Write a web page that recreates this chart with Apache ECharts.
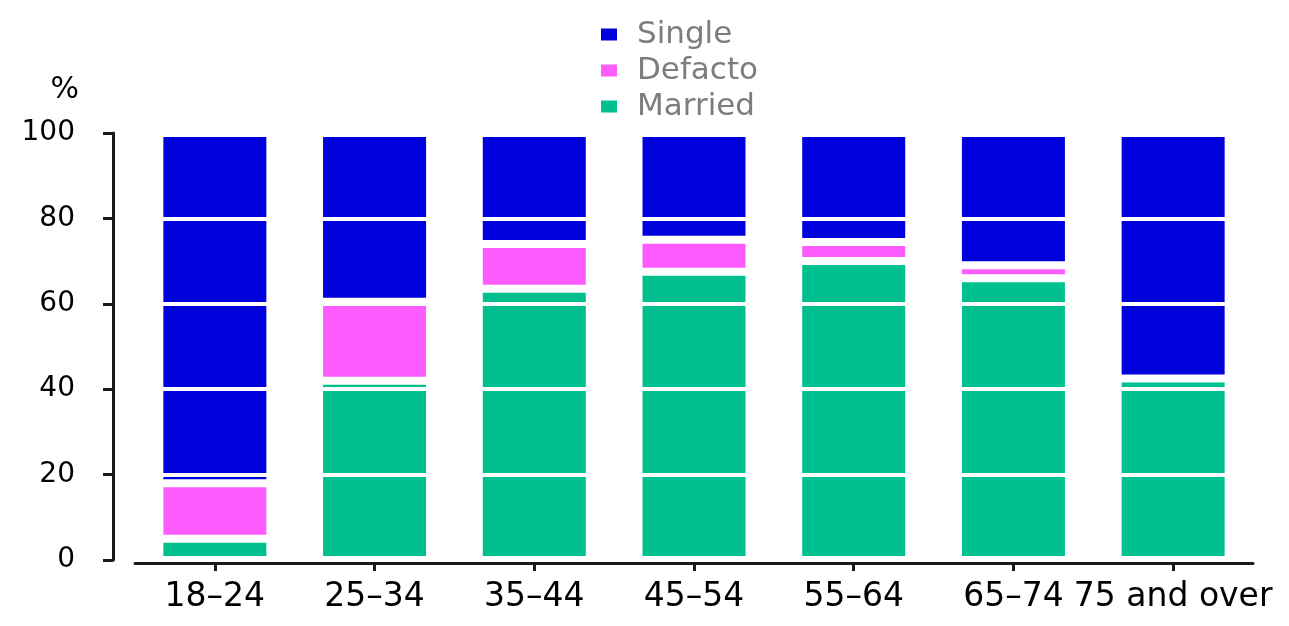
<!DOCTYPE html>
<html>
<head>
<meta charset="utf-8">
<script src="https://cdn.jsdelivr.net/npm/echarts@6/dist/echarts.min.js"></script>
<style>
  html, body { margin: 0; padding: 0; background: #ffffff; }
  #chart { width: 1289px; height: 626px; }
</style>
</head>
<body>
<div id="chart"></div>
<script>
const categories = ['18\u201324', '25\u201334', '35\u201344', '45\u201354', '55\u201364', '65\u201374', '75 and over'];
const married = [5, 42, 63.5, 67.5, 70, 66, 42.5];
const defacto = [13, 18.5, 10.5, 7.5, 4.5, 3, 0];
const single = [82, 39.5, 26, 25, 25.5, 31, 57.5];
const yTicks = [0, 20, 40, 60, 80, 100];

const FONT = 'DejaVu Sans, Verdana, sans-serif';
const chart = echarts.init(document.getElementById('chart'), null, { renderer: 'canvas' });

function barSeries(name, data, color) {
  return {
    name: name,
    type: 'bar',
    stack: 'total',
    data: data,
    barWidth: 111,
    itemStyle: { color: color, borderColor: '#ffffff', borderWidth: 4 },
    emphasis: { disabled: true }
  };
}

chart.setOption({
  animation: false,
  backgroundColor: '#ffffff',
  legend: {
    data: ['Single', 'Defacto', 'Married'],
    orient: 'vertical',
    left: 594,
    top: 14,
    icon: 'rect',
    itemWidth: 18,
    itemHeight: 14,
    itemGap: 5,
    textStyle: { fontFamily: FONT, fontSize: 31, color: '#7d7d7d', lineHeight: 31, padding: [0, 0, 0, 14] }
  },
  grid: { left: 135, right: 36, top: 133, bottom: 66, containLabel: false },
  xAxis: {
    type: 'category',
    data: categories,
    offset: 3,
    z: 10,
    axisLine: { show: true, onZero: false, lineStyle: { color: '#1a1a1a', width: 3 } },
    axisTick: { show: true, alignWithLabel: true, length: 8, lineStyle: { color: '#1a1a1a', width: 3 } },
    axisLabel: { interval: 0, margin: 18, fontFamily: FONT, fontSize: 33, color: '#000000' },
    splitLine: { show: false }
  },
  yAxis: {
    type: 'value',
    min: yTicks[0],
    max: yTicks[yTicks.length - 1],
    interval: 20,
    offset: 22,
    z: 10,
    name: '%',
    nameLocation: 'end',
    nameGap: 28,
    nameTextStyle: { fontFamily: FONT, fontSize: 30, color: '#000000', align: 'right', padding: [0, 34, 0, 0] },
    axisLine: { show: true, lineStyle: { color: '#1a1a1a', width: 3 } },
    axisTick: { show: true, length: 10, lineStyle: { color: '#1a1a1a', width: 3 } },
    axisLabel: { margin: 38, fontFamily: FONT, fontSize: 28, color: '#000000' },
    splitLine: { show: true, lineStyle: { color: '#ffffff', width: 4 } }
  },
  series: [
    barSeries('Married', married, '#00c08f'),
    barSeries('Defacto', defacto, '#ff5cff'),
    barSeries('Single', single, '#0000dc')
  ]
});
</script>
</body>
</html>
